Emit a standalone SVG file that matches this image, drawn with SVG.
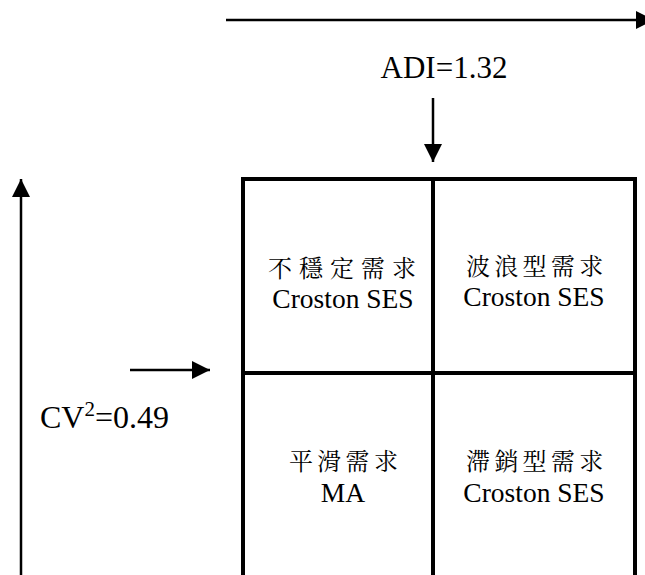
<svg xmlns="http://www.w3.org/2000/svg" width="645" height="575" viewBox="0 0 645 575">
<style>
.lat{font-family:'Liberation Serif','Times New Roman',serif;fill:#000}
.cjk{font-family:'Noto Serif CJK TC','Noto Sans CJK TC','Noto Sans CJK SC',serif;fill:#000;font-size:24px;letter-spacing:4.3px}
.ax{stroke:#000;stroke-width:2.5;fill:none}
.grid{stroke:#000;stroke-width:4;fill:none}
</style>
<defs>
<marker id="ah" markerUnits="userSpaceOnUse" markerWidth="18" markerHeight="18" viewBox="0 0 16 16" refX="16" refY="8" orient="auto">
<path d="M0,0 L16,8 L0,16 Z" fill="#000"/>
</marker>
</defs>
<rect width="645" height="575" fill="#fff"/>
<g id="connectors">
<line class="ax" x1="226" y1="20" x2="654" y2="20" marker-end="url(#ah)"/>
<line class="ax" x1="433" y1="98" x2="433" y2="162" marker-end="url(#ah)"/>
<line class="ax" x1="21" y1="575" x2="21" y2="179" marker-end="url(#ah)"/>
<line class="ax" x1="130" y1="370" x2="210" y2="370" marker-end="url(#ah)"/>
</g>
<g id="labels">
<text class="lat" x="444" y="78" font-size="31" text-anchor="middle">ADI=1.32</text>
<text class="lat" x="40" y="428" font-size="32">CV<tspan font-size="21" dy="-12">2</tspan><tspan dy="12">=0.49</tspan></text>
</g>
<g id="grid">
<rect class="grid" x="243" y="179" width="392" height="400"/>
<line class="grid" x1="433" y1="179" x2="433" y2="575"/>
<line class="grid" x1="243" y1="373" x2="635" y2="373"/>
</g>
<g id="cell-unstable">
<text class="cjk" x="268" y="277" style="letter-spacing:7px">不穩定需求</text>
<text class="lat" x="343" y="308" font-size="27.5" text-anchor="middle">Croston SES</text>
</g>
<g id="cell-lumpy">
<text class="cjk" x="466" y="275">波浪型需求</text>
<text class="lat" x="534" y="306" font-size="27.5" text-anchor="middle">Croston SES</text>
</g>
<g id="cell-smooth">
<text class="cjk" x="289" y="470">平滑需求</text>
<text class="lat" x="343" y="502" font-size="27.5" text-anchor="middle">MA</text>
</g>
<g id="cell-slow">
<text class="cjk" x="466" y="470">滯銷型需求</text>
<text class="lat" x="534" y="502" font-size="27.5" text-anchor="middle">Croston SES</text>
</g>
</svg>
